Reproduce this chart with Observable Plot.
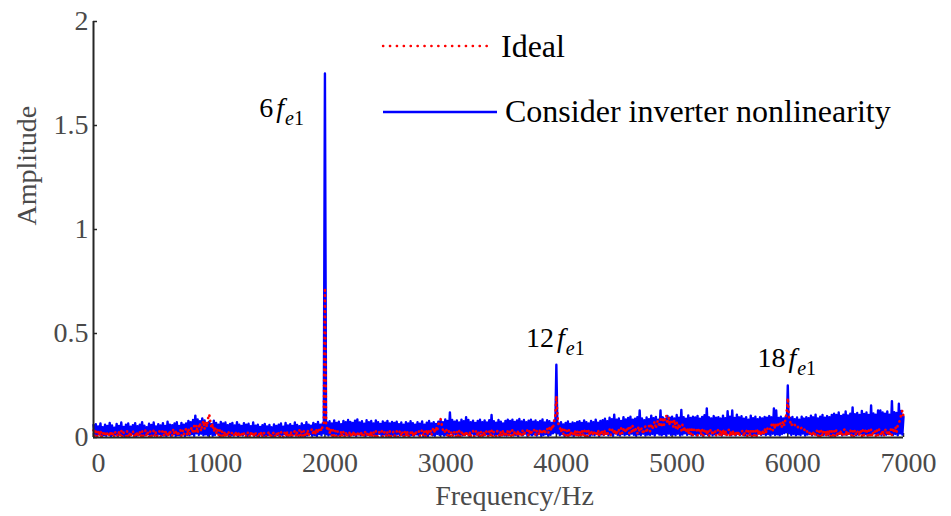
<!DOCTYPE html>
<html><head><meta charset="utf-8">
<script src="https://cdn.jsdelivr.net/npm/d3@7"></script>
<script src="https://cdn.jsdelivr.net/npm/@observablehq/plot@0.6"></script>
<style>
html,body{margin:0;padding:0;background:#fff;}
#chart{position:relative;width:951px;height:516px;}
</style></head><body><div id="chart"></div>
<script>
// Frequency bins (Hz), 10 Hz spacing from 0 to 7000 Hz
const freqs = d3.range(0, 7001, 10);

// Amplitude spectrum, considering inverter nonlinearity (blue); one row = 200 Hz
const nonlinearAmp = [
  .06,.01,.064,.006,.053,.015,.068,.004,.05,.012,.062,.008,.056,.017,.07,.005,.058,.011,.047,.014,
  .065,.007,.055,.016,.072,.009,.051,.005,.061,.013,.067,.006,.052,.018,.059,.01,.069,.004,.054,.012,
  .062,.015,.074,.007,.057,.011,.05,.016,.066,.005,.06,.01,.072,.013,.053,.006,.064,.017,.058,.009,
  .069,.012,.055,.005,.076,.014,.062,.008,.059,.016,.067,.006,.073,.011,.056,.009,.07,.015,.061,.007,
  .067,.013,.08,.01,.074,.016,.084,.008,.105,.02,.087,.012,.078,.018,.092,.01,.082,.015,.07,.009,
  .076,.017,.064,.008,.081,.012,.07,.02,.062,.007,.075,.014,.067,.01,.072,.016,.059,.006,.065,.011,
  .07,.009,.058,.015,.074,.007,.062,.013,.056,.01,.069,.018,.061,.006,.066,.012,.054,.016,.072,.008,
  .057,.011,.062,.006,.051,.014,.059,.009,.065,.004,.053,.012,.06,.017,.049,.007,.063,.01,.055,.013,
  .061,.005,.067,.012,.052,.016,.07,.008,.058,.011,.064,.006,.056,.015,.072,.009,.06,.013,.054,.007,
  .068,.014,.059,.006,.073,.011,.062,.017,.057,.008,.07,.012,.064,.005,.075,.016,.061,.01,.067,.02,
  1.75,.015,.072,.009,.078,.014,.067,.007,.082,.018,.07,.011,.076,.006,.064,.016,.08,.01,.073,.013,
  .084,.008,.075,.017,.07,.012,.081,.006,.087,.015,.072,.01,.078,.019,.066,.007,.083,.013,.074,.009,
  .079,.016,.068,.008,.082,.012,.073,.018,.065,.006,.077,.014,.071,.01,.08,.007,.067,.015,.075,.011,
  .07,.006,.076,.017,.064,.01,.072,.013,.061,.008,.074,.016,.067,.005,.078,.012,.069,.009,.062,.015,
  .073,.01,.066,.018,.077,.007,.062,.013,.071,.006,.079,.016,.068,.011,.074,.008,.065,.017,.076,.012,
  .082,.015,.074,.009,.087,.013,.08,.006,.121,.02,.084,.011,.076,.017,.082,.008,.072,.014,.086,.01,
  .078,.012,.098,.016,.084,.007,.073,.019,.081,.01,.07,.014,.079,.006,.085,.018,.074,.009,.082,.015,
  .072,.008,.083,.013,.108,.017,.078,.01,.071,.015,.084,.006,.076,.02,.068,.011,.08,.009,.086,.014,
  .079,.018,.086,.01,.075,.013,.082,.007,.089,.016,.077,.011,.084,.019,.073,.008,.081,.014,.085,.01,
  .076,.015,.082,.009,.074,.017,.08,.006,.087,.012,.072,.016,.083,.008,.078,.013,.07,.02,.081,.024,
  .35,.02,.068,.011,.074,.016,.063,.008,.07,.018,.077,.01,.065,.014,.072,.007,.069,.017,.075,.012,
  .078,.009,.07,.016,.082,.012,.073,.019,.068,.008,.08,.014,.074,.011,.086,.017,.071,.006,.079,.015,
  .083,.012,.09,.018,.078,.01,.095,.015,.088,.008,.11,.02,.086,.013,.092,.009,.08,.017,.098,.011,
  .087,.016,.094,.01,.1,.019,.085,.013,.09,.007,.098,.015,.13,.011,.092,.018,.083,.009,.096,.014,
  .088,.012,.105,.017,.093,.009,.099,.02,.086,.014,.13,.01,.097,.016,.09,.008,.104,.019,.095,.013,
  .1,.015,.092,.011,.108,.018,.095,.009,.133,.014,.098,.02,.09,.012,.106,.017,.094,.01,.1,.016,
  .096,.011,.104,.019,.09,.013,.099,.008,.107,.016,.14,.012,.097,.018,.092,.01,.103,.015,.095,.02,
  .098,.014,.091,.009,.105,.017,.093,.012,.126,.02,.1,.011,.13,.016,.094,.01,.11,.018,.097,.013,
  .102,.015,.09,.01,.098,.018,.086,.012,.105,.009,.093,.016,.1,.011,.088,.019,.097,.013,.092,.017,
  .099,.011,.095,.016,.103,.009,.097,.018,.14,.012,.13,.015,.094,.01,.1,.017,.092,.021,.098,.025,
  .25,.02,.094,.012,.099,.017,.088,.01,.096,.015,.085,.011,.1,.019,.091,.009,.098,.014,.093,.016,
  .105,.01,.097,.018,.11,.013,.092,.008,.1,.016,.108,.012,.095,.02,.103,.011,.098,.015,.109,.009,
  .115,.017,.108,.012,.12,.019,.104,.01,.11,.015,.125,.013,.106,.018,.114,.009,.145,.016,.112,.011,
  .118,.014,.108,.019,.128,.011,.113,.016,.12,.01,.109,.018,.154,.013,.116,.02,.11,.012,.13,.015,
  .13,.011,.12,.018,.115,.013,.125,.016,.11,.02,.175,.012,.122,.017,.118,.01,.162,.019,.128,.014,
  .1
];

// Amplitude spectrum, ideal (red dotted); one row = 200 Hz
const idealAmp = [
  .035,.006,.04,.004,.028,.008,.033,.003,.025,.007,.03,.005,.022,.027,.004,.032,.006,.024,.003,.029,
  .021,.005,.026,.008,.034,.003,.024,.007,.004,.03,.006,.025,.003,.022,.032,.005,.023,.004,.028,.007,
  .025,.004,.031,.006,.022,.035,.005,.024,.003,.029,.006,.02,.033,.004,.027,.007,.023,.03,.005,.026,
  .032,.006,.038,.008,.027,.005,.036,.01,.007,.041,.012,.026,.034,.006,.03,.038,.009,.033,.012,.036,
  .04,.01,.045,.015,.036,.05,.018,.055,.03,.06,.022,.052,.07,.03,.062,.08,.04,.075,.05,.092,
  .112,.075,.045,.066,.028,.05,.02,.042,.012,.036,.008,.03,.006,.028,.004,.025,.007,.027,.003,.022,
  .02,.026,.004,.022,.006,.028,.003,.021,.025,.005,.019,.024,.003,.02,.027,.004,.022,.006,.026,.003,
  .019,.024,.004,.021,.006,.027,.003,.02,.023,.004,.018,.025,.005,.022,.003,.019,.026,.004,.021,.006,
  .024,.005,.028,.007,.003,.025,.006,.031,.004,.023,.005,.029,.008,.022,.033,.005,.026,.007,.035,.006,
  .03,.007,.034,.009,.005,.037,.01,.025,.033,.042,.012,.036,.015,.044,.02,.04,.048,.03,.055,.065,
  .72,.065,.04,.05,.02,.042,.01,.035,.008,.031,.005,.029,.024,.003,.03,.006,.027,.004,.024,.003,
  .022,.028,.004,.025,.006,.032,.003,.023,.027,.005,.021,.03,.004,.024,.006,.033,.022,.003,.026,.005,
  .028,.005,.024,.003,.031,.007,.004,.026,.022,.034,.003,.022,.029,.004,.025,.006,.032,.005,.023,.027,
  .005,.025,.03,.004,.022,.033,.006,.024,.003,.028,.007,.031,.004,.026,.022,.035,.005,.027,.008,.029,
  .025,.032,.006,.027,.035,.008,.029,.005,.037,.012,.031,.041,.01,.035,.047,.02,.052,.03,.065,.07,
  .088,.06,.035,.042,.02,.036,.01,.031,.006,.028,.004,.029,.023,.003,.028,.006,.033,.004,.025,.007,
  .027,.004,.032,.007,.005,.029,.003,.025,.031,.005,.024,.034,.006,.027,.004,.03,.008,.026,.005,.033,
  .025,.005,.029,.008,.035,.004,.027,.009,.006,.032,.026,.005,.03,.008,.037,.005,.028,.01,.033,.007,
  .029,.008,.036,.006,.027,.031,.009,.034,.005,.028,.01,.037,.007,.032,.027,.035,.008,.039,.012,.033,
  .027,.037,.01,.031,.035,.012,.042,.015,.034,.04,.016,.037,.045,.02,.047,.03,.057,.04,.075,.1,
  .2,.1,.055,.05,.025,.047,.015,.039,.01,.033,.008,.037,.006,.031,.028,.005,.035,.008,.032,.006,
  .03,.006,.033,.009,.035,.007,.031,.005,.037,.01,.023,.034,.008,.029,.032,.006,.036,.009,.03,.012,
  .033,.01,.037,.014,.008,.035,.04,.012,.033,.043,.015,.037,.01,.041,.035,.014,.045,.018,.039,.047,
  .022,.043,.052,.02,.047,.026,.057,.022,.049,.03,.018,.053,.027,.037,.047,.015,.043,.055,.022,.049,
  .057,.03,.067,.038,.062,.077,.042,.072,.082,.05,.087,.048,.097,.06,.092,.107,.065,.097,.058,.087,
  .077,.052,.085,.045,.072,.038,.067,.042,.032,.062,.028,.052,.022,.047,.018,.043,.015,.04,.012,.037,
  .033,.042,.01,.037,.045,.012,.039,.008,.035,.041,.012,.037,.006,.034,.04,.01,.032,.036,.007,.031,
  .037,.009,.033,.006,.04,.012,.035,.008,.029,.037,.005,.032,.009,.035,.004,.03,.008,.033,.005,.028,
  .026,.034,.004,.029,.037,.007,.031,.01,.035,.005,.03,.008,.033,.006,.039,.011,.034,.007,.037,.012,
  .042,.02,.047,.035,.045,.04,.062,.035,.067,.042,.072,.048,.069,.06,.072,.05,.079,.058,.087,.12,
  .19,.1,.077,.055,.067,.058,.062,.052,.057,.048,.052,.042,.047,.038,.042,.03,.037,.025,.032,.02,
  .029,.01,.025,.006,.022,.035,.008,.031,.004,.034,.007,.029,.037,.006,.032,.009,.035,.005,.03,.008,
  .033,.006,.037,.005,.031,.01,.035,.004,.032,.039,.008,.034,.006,.03,.037,.009,.033,.005,.036,.01,
  .025,.033,.008,.04,.006,.035,.009,.032,.042,.007,.034,.01,.037,.004,.031,.036,.006,.033,.01,.039,
  .031,.008,.037,.006,.033,.042,.01,.035,.008,.04,.012,.047,.02,.052,.025,.057,.067,.087,.11,.13,
  .1
];

const xTicks = [0, 1000, 2000, 3000, 4000, 5000, 6000, 7000];
const yTicks = [0, 0.5, 1, 1.5, 2];

// Harmonic annotations: order (multiple of fe1), frequency (Hz), label amplitude
const harmonicOrders = ["6", "12", "18"];
const harmonicFreqs = [2000, 4000, 6000];
const harmonicLabelAmps = [1.585, 0.476, 0.38];

const legendLabels = ["Ideal", "Consider inverter nonlinearity"];
const seriesColors = ["#ff0000", "#0000ff"];

const data = freqs.map((f, i) => ({f, blue: nonlinearAmp[i], red: idealAmp[i]}));
const harmonics = harmonicOrders.map((n, i) => ({n, f: harmonicFreqs[i], amp: harmonicLabelAmps[i]}));

const FONT = "'Liberation Serif','Times New Roman',serif";
const AXIS_COLOR = "#262626";
const LABEL_COLOR = "#4a4a4a";

const plot = Plot.plot({
  width: 951,
  height: 516,
  marginLeft: 93,
  marginRight: 48,
  marginTop: 21,
  marginBottom: 79,
  style: {fontFamily: FONT, fontSize: "28px", background: "#fff", overflow: "visible"},
  x: {domain: [0, 7000]},
  y: {domain: [0, 2]},
  marks: [
    Plot.axisX({ticks: xTicks, tickSize: -4, tickFormat: () => "", label: null, stroke: AXIS_COLOR, strokeWidth: 1.5}),
    Plot.axisY({ticks: yTicks, tickSize: -4, tickFormat: () => "", label: null, stroke: AXIS_COLOR, strokeWidth: 1.5}),
    Plot.axisX({ticks: xTicks, tickSize: 0, tickPadding: 15, dx: 5, tickFormat: d => `${d}`, label: null, color: LABEL_COLOR}),
    Plot.axisY({ticks: yTicks, tickSize: 0, tickPadding: 5, tickFormat: d => `${d}`, label: null, color: LABEL_COLOR}),
    Plot.line(data, {x: "f", y: "blue", stroke: seriesColors[1], strokeWidth: 2.4, strokeLinejoin: "round"}),
    Plot.line(data, {x: "f", y: "red", stroke: seriesColors[0], strokeWidth: 2.6, strokeLinecap: "round", strokeDasharray: "0.3,5"}),
    Plot.ruleY([0], {stroke: AXIS_COLOR, strokeWidth: 2}),
    Plot.ruleX([0], {stroke: AXIS_COLOR, strokeWidth: 2}),
    Plot.text(harmonics.slice(0, 1), {x: "f", y: "amp", text: "n", textAnchor: "end", dx: -21, fill: "#000", className: "harm"}),
    Plot.text(harmonics.slice(1), {x: "f", y: "amp", text: "n", textAnchor: "middle", dx: -1, fill: "#000", className: "harm"}),
    Plot.text(["Frequency/Hz"], {frameAnchor: "bottom", lineAnchor: "middle", dx: 16, dy: 59, fill: LABEL_COLOR}),
    Plot.text(["Amplitude"], {frameAnchor: "left", lineAnchor: "middle", rotate: -90, dx: -66, dy: -4, fill: LABEL_COLOR})
  ]
});

document.getElementById("chart").appendChild(plot);

const svg = d3.select(plot);

// Rich-text harmonic labels: n f_{e1}
svg.selectAll("g.harm text").each(function() {
  const t = d3.select(this);
  const n = t.text();
  t.text(null).style("font-family", FONT);
  t.append("tspan").style("font-family", FONT).text(n);
  t.append("tspan").attr("dx", 3).style("font-family", FONT).style("font-style", "italic").text("f");
  t.append("tspan").attr("dx", 1).attr("dy", 8).style("font-family", FONT).style("font-style", "italic").style("font-size", "20px").text("e");
  t.append("tspan").style("font-family", FONT).style("font-size", "20px").text("1");
});

// Legend inside the axes
const leg = svg.append("g");
leg.append("line").attr("x1", 383).attr("x2", 492).attr("y1", 46).attr("y2", 46)
  .attr("stroke", seriesColors[0]).attr("stroke-width", 2.4).attr("stroke-linecap", "round").attr("stroke-dasharray", "0.3,6.6");
leg.append("text").attr("x", 501).attr("y", 57).attr("text-anchor", "start")
  .style("font-family", FONT).style("font-size", "32px").attr("fill", "#000").text(legendLabels[0]);
leg.append("line").attr("x1", 383).attr("x2", 497).attr("y1", 112).attr("y2", 112)
  .attr("stroke", seriesColors[1]).attr("stroke-width", 2.6);
leg.append("text").attr("x", 505).attr("y", 122).attr("text-anchor", "start")
  .style("font-family", FONT).style("font-size", "32px").attr("fill", "#000").text(legendLabels[1]);
</script>
</body></html>
